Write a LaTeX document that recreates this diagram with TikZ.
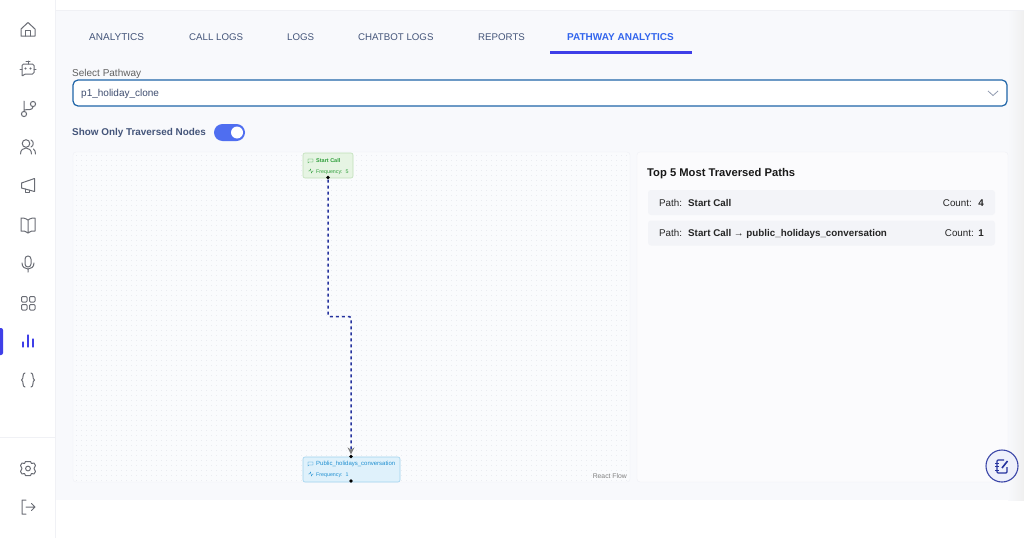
\documentclass[tikz,border=0pt]{standalone}
\usepackage{fontspec}
\setmainfont{Liberation Sans}
\usetikzlibrary{arrows.meta}
\definecolor{panelbg}{HTML}{F8F9FC}
\definecolor{canvasbg}{HTML}{FAFBFD}
\definecolor{lineclr}{HTML}{F0F1F5}
\definecolor{griddot}{HTML}{EAECF1}
\definecolor{rowfill}{HTML}{F3F4F8}
\definecolor{tabclr}{HTML}{44557A}
\definecolor{activeclr}{HTML}{3F3FE8}
\definecolor{iconclr}{HTML}{6A6D75}
\definecolor{edgeclr}{HTML}{25329E}
\definecolor{selectclr}{HTML}{1F65A8}
\definecolor{toggleclr}{HTML}{4F6EF0}
\definecolor{notefill}{HTML}{EEF0FB}
\definecolor{startfill}{HTML}{E6F4E3}
\definecolor{startline}{HTML}{BFE0B8}
\definecolor{startclr}{HTML}{2E9E3A}
\definecolor{holfill}{HTML}{DFF1FB}
\definecolor{holline}{HTML}{9FD2EE}
\definecolor{holclr}{HTML}{1F8FD0}
\tikzset{
  icon/.style={draw=iconclr,line width=1pt,line cap=round,line join=round},
  tabtext/.style={anchor=base west,text=tabclr,font=\fontsize{9.7}{12}\selectfont,inner sep=0pt},
  plaintext/.style={anchor=base west,text=black!85,font=\fontsize{9.8}{12}\selectfont,inner sep=0pt},
  boldtext/.style={plaintext,font=\fontsize{9.8}{12}\selectfont\bfseries},
  flowbox/.style={rounded corners=2pt,line width=.6pt,inner sep=0pt},
  tinytext/.style={anchor=base west,font=\fontsize{5.3}{6}\selectfont,inner sep=0pt},
  handle/.style={circle,fill=black,inner sep=0pt,minimum size=3.8pt},
  row/.style={fill=rowfill,rounded corners=3pt,inner sep=0pt,minimum height=25pt,minimum width=347pt},
}
\begin{document}
\begin{tikzpicture}[x=1pt,y=-1pt]
\useasboundingbox (0,0) rectangle (1024,538);
\fill[white] (0,0) rectangle (1024,538);
\fill[panelbg] (55,10) rectangle (1024,500);
\shade[left color=panelbg,right color=black!6] (1008,10) rectangle (1024,500);
\draw[lineclr] (55,0) -- (55,538);
\draw[lineclr] (0,437) -- (55,437);
\draw[lineclr] (55,10) -- (1024,10);
\fill[activeclr,rounded corners=2pt] (-3,328) rectangle (3,355);

\node[tabtext,font=\fontsize{10}{12}\selectfont] (tab1) at (89,40) {ANALYTICS};
\node[tabtext] (tab2) at (189,40) {CALL LOGS};
\node[tabtext] (tab3) at (287,40) {LOGS};
\node[tabtext] (tab4) at (358,40) {CHATBOT LOGS};
\node[tabtext] (tab5) at (478,40) {REPORTS};
\node[tabtext,text=activeclr!80!cyan,font=\fontsize{10}{12}\selectfont\bfseries] (tab6) at (567,40) {PATHWAY ANALYTICS};
\draw[activeclr,line width=2.6pt] (550,52.5) -- (692,52.5);

\node[anchor=base west,inner sep=0pt,text=black!62,font=\fontsize{10}{12}\selectfont] (sellabel) at (72,76) {Select Pathway};
\draw[selectclr,fill=white,line width=1.2pt,rounded corners=5pt] (73,80) rectangle (1007,106);
\node[anchor=base west,inner sep=0pt,text=tabclr!90!black,font=\fontsize{10}{12}\selectfont] (selvalue) at (81,96.5) {p1\_holiday\_clone};
\draw[tabclr!60,line width=.8pt] (988,91) -- (993,95.5) -- (998,91);

\node[anchor=base west,inner sep=0pt,text=tabclr,font=\fontsize{9.9}{12}\selectfont\bfseries] (showlabel) at (72,135.5) {Show Only Traversed Nodes};
\fill[toggleclr,rounded corners=8.5pt] (214,124) rectangle (245,141);
\fill[white] (237,132.5) circle (6);

\draw[lineclr,fill=canvasbg,rounded corners=3pt] (73,152) rectangle (630,482);
\foreach \py in {155,160,...,480}
  \draw[griddot,line width=.7pt,dash pattern=on .7pt off 4.3pt] (76,\py) -- (628,\py);
\node[anchor=base east,inner sep=0pt,text=black!50,font=\fontsize{6.8}{8}\selectfont] (flowmark) at (627,478.5) {React Flow};

\node[flowbox,draw=startline,fill=startfill,minimum width=50pt,minimum height=25pt] (startbox) at (328,165.5) {};
\node[tinytext,text=startclr,font=\fontsize{5.5}{6}\selectfont\bfseries] (startname) at (316,162.5) {Start Call};
\node[tinytext,text=startclr] (startfreq) at (316,173) {Frequency:\ \ 5};
\draw[startclr,line width=.3pt] (308,163) -- (308,159) -- (313,159) -- (313,162) -- (309,162) -- cycle;
\draw[startclr,line width=.3pt] (308,171) -- (309.5,171) -- (310.5,169) -- (311.5,173) -- (312.5,171) -- (313.5,171);

\node[flowbox,draw=holline,fill=holfill,minimum width=97pt,minimum height=25pt] (holbox) at (351.5,469.5) {};
\node[tinytext,text=holclr,font=\fontsize{6}{7}\selectfont] (holname) at (316,465.5) {Public\_holidays\_conversation};
\node[tinytext,text=holclr] (holfreq) at (316,476.5) {Frequency:\ \ 1};
\draw[holclr,line width=.3pt] (308,466) -- (308,462) -- (313,462) -- (313,465) -- (309,465) -- cycle;
\draw[holclr,line width=.3pt] (308,474) -- (309.5,474) -- (310.5,472) -- (311.5,476) -- (312.5,474) -- (313.5,474);

\node[handle] (hstart) at (328,177.5) {};
\node[handle] (hend) at (351,456.5) {};
\node[handle] (hout) at (351,481) {};
\coordinate (bendA) at (328,316.5);
\coordinate (bendB) at (351,316.5);
\draw[edgeclr,line width=1.5pt,dash pattern=on 3pt off 3pt,rounded corners=1.5pt,-{Stealth[black!50,length=7pt,width=7pt]}] (hstart) -- (bendA) -- (bendB) -- (hend);

\draw[lineclr,fill=panelbg!60!white,rounded corners=3pt] (637,152) rectangle (1008,482);
\node[anchor=base west,inner sep=0pt,text=black!90,font=\fontsize{11.2}{13}\selectfont\bfseries] (toptitle) at (647,176.5) {Top 5 Most Traversed Paths};
\node[row] (row1) at (821.5,202.5) {};
\node[row] (row2) at (821.5,233) {};
\node[plaintext] (pathA) at (659,206) {Path:};
\node[boldtext] (pathAval) at (688,206) {Start Call};
\node[plaintext,anchor=base east] (countA) at (972,206) {Count:};
\node[boldtext,anchor=base east] (countAval) at (984,206) {4};
\node[plaintext] (pathB) at (659,236.5) {Path:};
\node[boldtext] (pathBval) at (688,236.5) {Start Call → public\_holidays\_conversation};
\node[plaintext,anchor=base east] (countB) at (974,236.5) {Count:};
\node[boldtext,anchor=base east] (countBval) at (984,236.5) {1};

\draw[edgeclr!90,line width=1.1pt,fill=notefill] (1002,466) circle (16);
\draw[edgeclr,line width=1.2pt,line join=round,rounded corners=1pt] (1004,460) -- (997,460) -- (997,473) -- (1007,473) -- (1007,467);
\draw[edgeclr,line width=1pt] (995,463) -- (999,463) (995,466.5) -- (999,466.5) (995,470) -- (999,470);
\draw[edgeclr,line width=1.6pt] (1002,468) -- (1007.5,461);

\draw[icon] (21,29) -- (28,22.5) -- (35,29) -- (35,36) -- (21,36) -- cycle;
\draw[icon] (25.5,36) -- (25.5,30.5) -- (30.5,30.5) -- (30.5,36);
\draw[icon,rounded corners=1.5pt] (22,64) -- (34,64) -- (34,74) -- (24,74) -- (22,77) -- cycle;
\draw[icon] (28,64) -- (28,61) (26,61) -- (30,61) (20,69) -- (22,69) (34,69) -- (36,69);
\fill[iconclr] (25.5,68.5) circle (1.2) (30.5,68.5) circle (1.2);
\draw[icon] (24,114) circle (2.6) (33,104) circle (2.6);
\draw[icon] (24,111.4) -- (24,101) (33,106.6) .. controls (33,111) and (27,109) .. (24,110);
\draw[icon] (26,143.5) circle (3.8);
\draw[icon] (20.5,154) .. controls (20.5,146) and (31.5,146) .. (31.5,154);
\draw[icon] (31,140) .. controls (34,141) and (34,146) .. (31,147) (33.5,149) .. controls (35,150) and (35.5,152) .. (35.5,154);
\draw[icon] (21.5,183) -- (34.5,178.5) -- (34.5,191.5) -- (21.5,188) -- cycle;
\draw[icon] (25,189) -- (25,192.5) -- (29,192.5) -- (29,190);
\draw[icon] (28,220) .. controls (25,218) and (23,218) .. (21,218) -- (21,231) .. controls (24,231) and (26,231) .. (28,233) .. controls (30,231) and (32,231) .. (35,231) -- (35,218) .. controls (33,218) and (31,218) .. (28,220) -- (28,233);
\draw[icon] (25,259) .. controls (25,255) and (31,255) .. (31,259) -- (31,264) .. controls (31,268) and (25,268) .. (25,264) -- cycle;
\draw[icon] (22,263) .. controls (22,271) and (34,271) .. (34,263) (28,269) -- (28,272);
\draw[icon,rounded corners=1pt] (21.5,296.5) rectangle (27,302) (29.5,296.5) rectangle (35,302) (21.5,304.5) rectangle (27,310) (29.5,304.5) rectangle (35,310);
\draw[icon,draw=activeclr,line width=1.1pt] (23,347) -- (23,342) (28,347) -- (28,335) (33,347) -- (33,339);
\draw[icon] (25,373) .. controls (22,373) and (24,379) .. (21.5,380) .. controls (24,381) and (22,387) .. (25,387);
\draw[icon] (31,373) .. controls (34,373) and (32,379) .. (34.5,380) .. controls (32,381) and (34,387) .. (31,387);
\draw[icon] (28,468.5) circle (2.4);
\draw[icon] (25.5,461.5) -- (30.5,461.5) -- (31.5,463.5) -- (34,463) -- (35.5,465.5) -- (34,468.5) -- (35.5,471.5) -- (34,474) -- (31.5,473.5) -- (30.5,475.5) -- (25.5,475.5) -- (24.5,473.5) -- (22,474) -- (20.5,471.5) -- (22,468.5) -- (20.5,465.5) -- (22,463) -- (24.5,463.5) -- cycle;
\draw[icon] (26,500) -- (22,500) -- (22,514) -- (26,514) (26,507) -- (35,507) (31.5,503.5) -- (35,507) -- (31.5,510.5);
\end{tikzpicture}
\end{document}
